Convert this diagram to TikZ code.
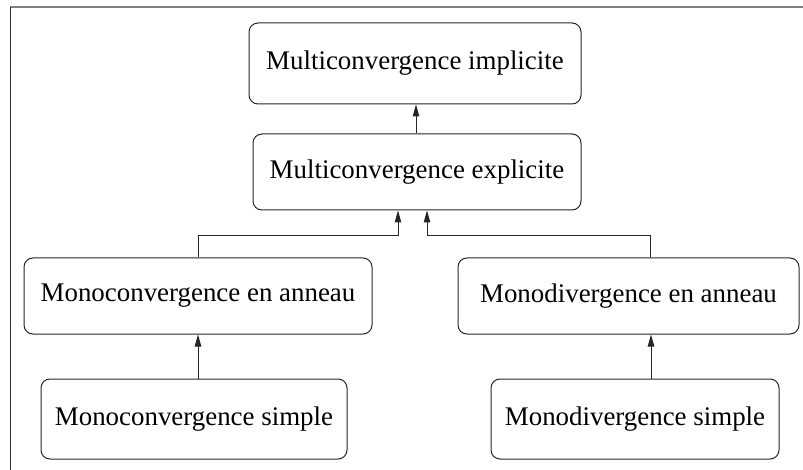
\documentclass[tikz,border=0pt]{standalone}
\usepackage{fontspec}
\setmainfont{Liberation Serif}
\usetikzlibrary{arrows.meta}
\begin{document}
\begin{tikzpicture}[x=1pt,y=-1pt,
  box/.style={draw=black!85,line width=1pt,rounded corners=9pt,inner sep=0pt,
    font=\fontsize{26.9}{32}\selectfont},
  arr/.style={draw=black!85,line width=1pt,-{Triangle[width=6.5pt,length=12pt]}},
  frameline/.style={draw=black!50,line width=2pt}]
\useasboundingbox (0,0) rectangle (803,470);
\coordinate (fa) at (10,7);
\coordinate (fb) at (803,7);
\coordinate (fc) at (10,470);
\draw[frameline] (fa) -- (fb);
\draw[black!80,line width=1pt] (fa) -- (fc);

\node[box,minimum width=332pt,minimum height=81pt] (b1) at (415,63.5) {Multiconvergence implicite};
\node[box,minimum width=328pt,minimum height=76pt] (b2) at (417,172) {Multiconvergence explicite};
\node[box,minimum width=348pt,minimum height=76pt] (b3) at (198,296) {Monoconvergence en anneau};
\node[box,minimum width=341pt,minimum height=76pt] (b4) at (628.5,296) {Monodivergence en anneau};
\node[box,minimum width=306pt,minimum height=80pt] (b5) at (194,419) {Monoconvergence simple};
\node[box,minimum width=288pt,minimum height=80pt] (b6) at (635,419) {Monodivergence simple};

\coordinate (j1) at (398,236);
\coordinate (j2) at (427,236);

\draw[arr] ([xshift=-1pt]b2.north) -- ([xshift=-1pt]b2.north |- b1.south);
\draw[arr] (b3.north) |- (j1) -- (j1 |- b2.south);
\draw[arr] ([xshift=21.5pt]b4.north) |- (j2) -- (j2 |- b2.south);
\draw[arr] (b3.south |- b5.north) -- (b3.south);
\draw[arr] ([xshift=16pt]b6.north) -- ([xshift=16pt]b6.north |- b4.south);
\end{tikzpicture}
\end{document}
